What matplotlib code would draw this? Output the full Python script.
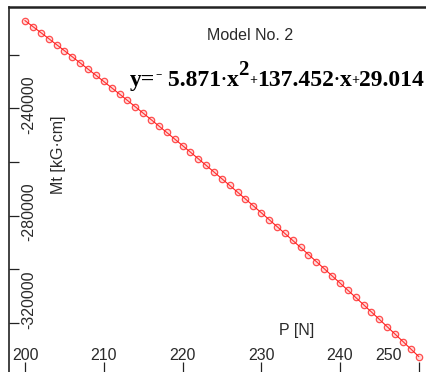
import numpy as np
import matplotlib
matplotlib.use("Agg")
import matplotlib.pyplot as plt
import matplotlib.transforms as mtransforms

# fitted model: Mt = a*P^2 + b*P + c
coef_a = -5.871
coef_b = 137.452
coef_c = 29.014
p_values = np.arange(200, 251, 1)
mt_values = coef_a * p_values**2 + coef_b * p_values + coef_c

x_ticks = [200, 210, 220, 230, 240, 250]
y_ticks = [-220000, -240000, -260000, -280000, -300000, -320000]
y_labelled = [-240000, -280000, -320000]

title_text = "Model No. 2"
x_label = "P [N]"
y_label = "Mt [kG\u00b7cm]"

W, H = 427, 372
fig = plt.figure(figsize=(W / 100, H / 100), dpi=100)
left = 9.5 / W
top = 7 / H
ax = fig.add_axes([left, 0, 1 - left, 1 - top])

ax.plot(p_values, mt_values, color="#ff2020", lw=0.8, zorder=3)
ax.plot(p_values, mt_values, ls="none", marker="o", ms=4.6,
        mfc=(1, 0.45, 0.45, 0.25), mec=(1, 0.1, 0.1, 0.75), mew=0.9,
        zorder=4)

ax.set_xlim(198.03, 251.05)
ax.set_ylim(-338318, -202243)

for s in ["bottom", "right"]:
    ax.spines[s].set_visible(False)
ax.spines["left"].set_color("#222222")
ax.spines["left"].set_linewidth(1.2)
ax.spines["top"].set_color("#222222")
ax.spines["top"].set_linewidth(1.8)

ax.set_xticks(x_ticks)
ax.set_yticks(y_ticks)
ax.tick_params(axis="both", direction="in", length=7.2, width=0.9,
               color="#222222", labelbottom=False, labelleft=False)

font = "Liberation Sans"
tcol = "#2a2a2a"

# x tick labels sit inside the plot, above the ticks
xt = mtransforms.blended_transform_factory(ax.transData, ax.transAxes)
for v in x_ticks:
    xv = v if v != 250 else 246.1
    ax.text(xv, 12.5 / (H - 7), str(v), transform=xt, ha="center",
            va="baseline", fontsize=11.5, family=font, color=tcol)

# y tick labels, rotated, inside the plot (lowest one nudged up)
yt = mtransforms.blended_transform_factory(ax.transAxes, ax.transData)
for v in y_labelled:
    yv = v if v != -320000 else -312900
    ax.text(12 / (W - 9.5), yv + 1500, "%d" % v, transform=yt, rotation=90,
            ha="left", va="center", fontsize=11.5, family=font, color=tcol)

fig.text(250 / W, 1 - 35 / H, title_text, ha="center", va="center",
         fontsize=11.5, family=font, color=tcol)
fig.text(297 / W, 1 - 331 / H, x_label, ha="center", va="center",
         fontsize=11.5, family=font, color=tcol)
fig.text(59 / W, 1 - 155 / H, y_label, ha="center", va="center",
         rotation=90, fontsize=11.5, family=font, color=tcol)

# equation built piece by piece
pieces = [
    ("y=", 17, 0),
    ("\u2212", 8, 9),
    (" 5.871", 17, 0),
    ("\u00b7", 13, 1),
    ("x", 17, 0),
    ("2", 15, 11),
    ("+", 10, 2),
    ("137.452", 17, 0),
    ("\u00b7", 13, 1),
    ("x", 17, 0),
    ("+", 10, 2),
    ("29.014", 17, 0),
]
renderer = fig.canvas.get_renderer()
xpos = 130.0
base = H - 86
for txt, size, dy in pieces:
    t = fig.text(xpos / W, (base + dy) / H, txt, ha="left", va="baseline",
                 fontsize=size, family="Liberation Serif", weight="bold",
                 color="black")
    bb = t.get_window_extent(renderer)
    xpos += bb.width

fig.savefig("out.png", dpi=100)
